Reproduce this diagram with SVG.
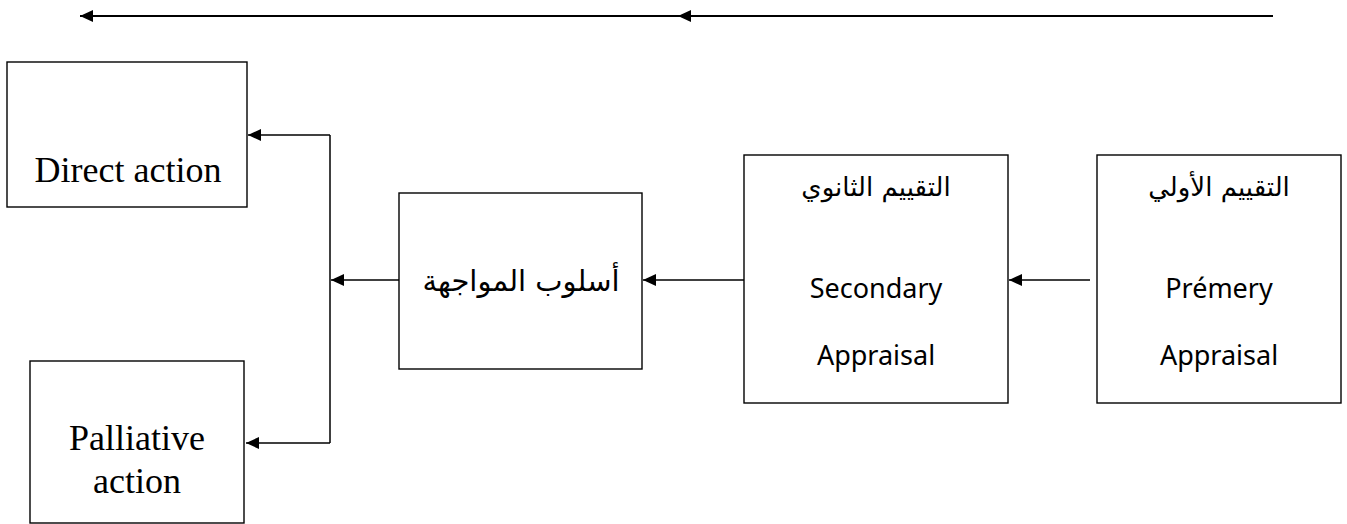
<svg xmlns="http://www.w3.org/2000/svg" width="1347" height="524" viewBox="0 0 1347 524">
<style>
.box{fill:#fff;stroke:#000;stroke-width:1.4}
.ln{fill:none;stroke:#000;stroke-width:1.5}
.top{fill:none;stroke:#000;stroke-width:2}
.serif{font-family:"Liberation Serif","Times New Roman",serif;font-size:36px;fill:#000}
.sans{font-family:"Noto Sans","Open Sans",sans-serif;font-size:27px;fill:#000}
.ar{font-family:"DejaVu Sans","Noto Sans",sans-serif;font-size:26px;fill:#000}
.arl{font-family:"DejaVu Sans","Noto Sans",sans-serif;font-size:29px;fill:#000}
</style>
<defs>
<marker id="ah" markerUnits="userSpaceOnUse" markerWidth="14" markerHeight="12" refX="13" refY="6" orient="auto">
<path d="M0,0 L13,6 L0,12 Z" fill="#000"/>
</marker>
</defs>
<g id="connectors">
<line class="top" x1="1273" y1="16" x2="678" y2="16" marker-end="url(#ah)"/>
<line class="top" x1="678" y1="16" x2="80" y2="16" marker-end="url(#ah)"/>
<line class="ln" x1="1090" y1="280" x2="1009" y2="280" marker-end="url(#ah)"/>
<line class="ln" x1="744" y1="280" x2="643" y2="280" marker-end="url(#ah)"/>
<line class="ln" x1="399" y1="280" x2="331" y2="280" marker-end="url(#ah)"/>
<line class="ln" x1="330" y1="135" x2="330" y2="443"/>
<line class="ln" x1="330" y1="135" x2="248" y2="135" marker-end="url(#ah)"/>
<line class="ln" x1="330" y1="443" x2="246" y2="443" marker-end="url(#ah)"/>
</g>
<g id="direct">
<rect class="box" x="7" y="62" width="240" height="145"/>
<text class="serif" x="128" y="182" text-anchor="middle">Direct action</text>
</g>
<g id="palliative">
<rect class="box" x="30" y="361" width="214" height="162"/>
<text class="serif" x="137" y="450" text-anchor="middle">Palliative</text>
<text class="serif" x="137" y="493" text-anchor="middle">action</text>
</g>
<g id="coping">
<rect class="box" x="399" y="193" width="243" height="176"/>
<text class="arl" x="521" y="291" text-anchor="middle" direction="rtl">أسلوب المواجهة</text>
</g>
<g id="secondary">
<rect class="box" x="744" y="155" width="264" height="248"/>
<text class="ar" x="876" y="196" text-anchor="middle" direction="rtl">التقييم الثانوي</text>
<text class="sans" x="876" y="298" text-anchor="middle">Secondary</text>
<text class="sans" x="876" y="365" text-anchor="middle">Appraisal</text>
</g>
<g id="primary">
<rect class="box" x="1097" y="155" width="244" height="248"/>
<text class="ar" x="1219" y="196" text-anchor="middle" direction="rtl">التقييم الأولي</text>
<text class="sans" x="1219" y="298" text-anchor="middle">Prémery</text>
<text class="sans" x="1219" y="365" text-anchor="middle">Appraisal</text>
</g>
</svg>
